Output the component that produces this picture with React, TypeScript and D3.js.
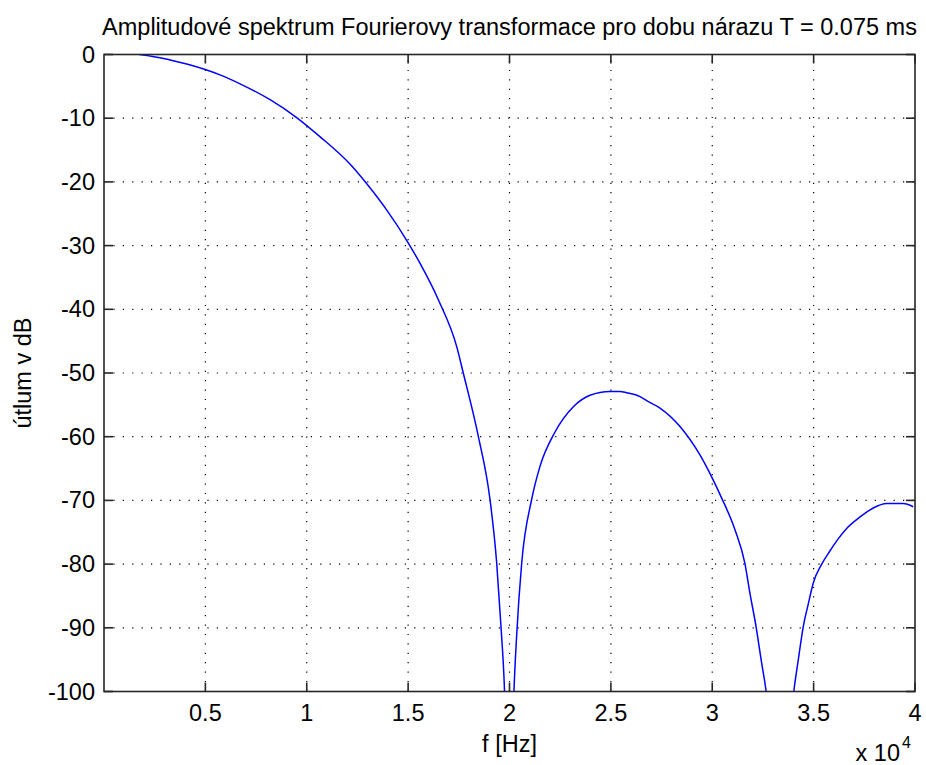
import React from "react";
import * as d3 from "d3";

const freqHz: number[] = [
  1740, 2400, 2760, 3255, 4080, 5030, 5720, 6710, 8190, 9500, 10650,
  12130, 12960, 13940, 15010, 15590, 16490, 17400, 17720, 18460, 19040, 19370,
  19580, 19740, 20000, 20220, 20350, 20600, 21090, 21500, 22240, 23150, 23970,
  24960, 25450, 25780, 26440, 26850, 27420, 28410, 29400, 29970, 30460, 31120,
  31610, 31860, 32160, 32440, 32650, 33330, 34030, 34240, 34490, 34740, 34980,
  35400, 35810, 36220, 36630, 37290, 37940, 38600, 39420, 39910,
];
const attenuationDb: number[] = [
  0, -0.3, -0.5, -0.85, -1.5, -2.4, -3.2, -4.6, -7.1, -9.9, -12.9,
  -17.2, -20.3, -24.4, -29.6, -32.8, -38.5, -45.9, -50.0, -59.9, -69.9, -79.9,
  -89.8, -98.7, -130, -100, -91.4, -79.9, -69.9, -64.7, -59.3, -55.3, -53.5,
  -52.9, -52.9, -53.1, -53.7, -54.5, -55.5, -58.4, -62.9, -66.3, -69.6, -74.6,
  -79.9, -84.6, -89.8, -95.6, -99.8, -130, -99.8, -95.1, -89.8, -86.2, -83.0,
  -80.0, -77.9, -76.0, -74.4, -72.6, -71.2, -70.5, -70.5, -71.0,
];

const xTicks: number[] = [5000, 10000, 15000, 20000, 25000, 30000, 35000, 40000];
const xTickLabels: string[] = ["0.5", "1", "1.5", "2", "2.5", "3", "3.5", "4"];
const yTicks: number[] = [0, -10, -20, -30, -40, -50, -60, -70, -80, -90, -100];

const titleText = "Amplitudové spektrum Fourierovy transformace pro dobu nárazu T = 0.075 ms";
const xLabel = "f [Hz]";
const yLabel = "útlum v dB";
const exponentBase = "x 10";
const exponentPower = "4";

const W = 926;
const H = 765;
const L = 104;
const R = 915;
const T = 54.5;
const B = 691.5;
const FONT = "'Liberation Sans', Arial, Helvetica, sans-serif";
const FS = 23.5;

export default function App() {
  const x = d3.scaleLinear().domain([0, 40000]).range([L, R]);
  const y = d3.scaleLinear().domain([-100, 0]).range([B, T]);
  const pts: [number, number][] = freqHz.map((f, i) => [f, attenuationDb[i]]);
  const line = d3
    .line<[number, number]>()
    .x((d) => x(d[0]))
    .y((d) => y(d[1]))
    .curve(d3.curveMonotoneX);
  const tick = 9;
  const axisColor = "#262626";
  return (
    <svg
      width={W}
      height={H}
      style={{ position: "absolute", left: 0, top: 0, background: "#fff" }}
      fontFamily={FONT}
    >
      <rect x={0} y={0} width={W} height={H} fill="#fff" />
      <defs>
        <clipPath id="plotClip">
          <rect x={L} y={T} width={R - L} height={B - T} />
        </clipPath>
      </defs>
      <g stroke="#000" strokeWidth={1.2} strokeDasharray="1.2,8.2">
        {xTicks
          .filter((v) => v < 40000)
          .map((v) => (
            <line key={"gx" + v} x1={x(v)} x2={x(v)} y1={B} y2={T} />
          ))}
        {yTicks
          .filter((v) => v !== 0 && v !== -100)
          .map((v) => (
            <line key={"gy" + v} x1={L} x2={R} y1={y(v)} y2={y(v)} />
          ))}
      </g>
      <g clipPath="url(#plotClip)">
        <path d={line(pts) || ""} fill="none" stroke="#0000ff" strokeWidth={1.5} />
      </g>
      <rect x={L} y={T} width={R - L} height={B - T} fill="none" stroke={axisColor} strokeWidth={1.6} />
      <g stroke={axisColor} strokeWidth={1.6}>
        {xTicks.map((v) => (
          <g key={"tx" + v}>
            <line x1={x(v)} x2={x(v)} y1={B} y2={B - tick} />
            <line x1={x(v)} x2={x(v)} y1={T} y2={T + tick} />
          </g>
        ))}
        {yTicks.map((v) => (
          <g key={"ty" + v}>
            <line x1={L} x2={L + tick} y1={y(v)} y2={y(v)} />
            <line x1={R} x2={R - tick} y1={y(v)} y2={y(v)} />
          </g>
        ))}
      </g>
      <g fontSize={FS} fill="#000">
        {xTicks.map((v, i) => (
          <text key={"lx" + v} x={x(v)} y={721} textAnchor="middle">
            {xTickLabels[i]}
          </text>
        ))}
        {yTicks.map((v) => (
          <text key={"ly" + v} x={95} y={y(v)} textAnchor="end" dominantBaseline="central">
            {v}
          </text>
        ))}
      </g>
      <text x={(L + R) / 2} y={35} textAnchor="middle" fontSize={FS} fill="#000">
        {titleText}
      </text>
      <text x={(L + R) / 2} y={752} textAnchor="middle" fontSize={FS} fill="#000">
        {xLabel}
      </text>
      <text
        transform={`translate(31, ${(T + B) / 2}) rotate(-90)`}
        textAnchor="middle"
        fontSize={FS}
        fill="#000"
      >
        {yLabel}
      </text>
      <text x={900} y={761} textAnchor="end" fontSize={FS} fill="#000">
        {exponentBase}
      </text>
      <text x={902} y={748} textAnchor="start" fontSize={16} fill="#000">
        {exponentPower}
      </text>
    </svg>
  );
}
